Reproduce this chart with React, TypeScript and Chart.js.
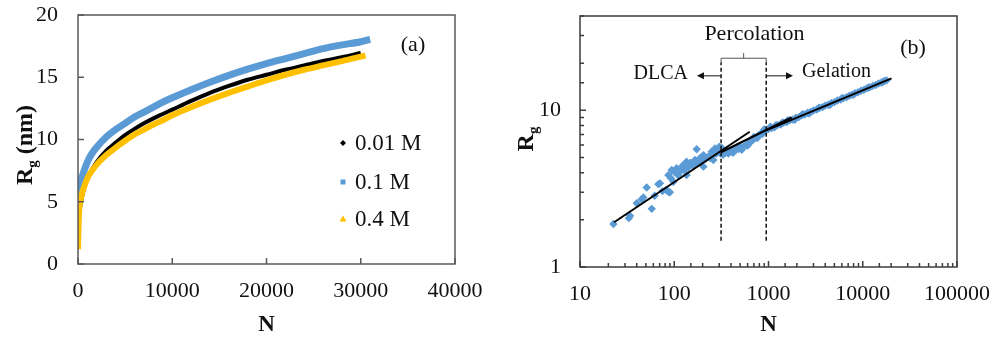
import React, { useEffect, useRef } from 'react';
import { Chart, registerables } from 'chart.js';
Chart.register(...registerables);

const SERIF = '"Liberation Serif", "Times New Roman", serif';
const TEXT = '#111111';

// ---------- Panel (a) data ----------
const seriesLabels = ['0.01 M', '0.1 M', '0.4 M'];
const seriesColors = ['#000000', '#5B9BD5', '#FFC000'];

const nBlack = [0, 50, 100, 200, 400, 700, 1000, 1500, 2000, 3000, 4000, 5000, 6000, 7000, 8000, 9000, 10000, 12000, 14000, 16000, 18000, 20000, 22000, 24000, 26000, 28000, 30000];
const rgBlack = [1.8, 3.0, 3.6, 4.4, 5.3, 6.2, 6.8, 7.6, 8.2, 9.1, 9.75, 10.35, 10.85, 11.3, 11.7, 12.05, 12.4, 13.1, 13.75, 14.3, 14.8, 15.2, 15.6, 15.95, 16.3, 16.6, 16.95];

const nBlue = [0, 50, 100, 200, 400, 700, 1000, 1500, 2000, 3000, 4000, 5000, 6000, 7000, 8000, 9000, 10000, 12000, 14000, 16000, 18000, 20000, 22000, 24000, 26000, 28000, 30000, 31000];
const rgBlue = [3.8, 5.0, 5.6, 6.2, 6.9, 7.6, 8.2, 8.9, 9.4, 10.2, 10.8, 11.3, 11.8, 12.2, 12.6, 13.0, 13.35, 14.0, 14.6, 15.15, 15.65, 16.1, 16.5, 16.9, 17.3, 17.6, 17.85, 18.05];

const nYellow = [0, 30, 60, 100, 200, 400, 700, 1000, 1500, 2000, 3000, 4000, 5000, 6000, 7000, 8000, 9000, 10000, 12000, 14000, 16000, 18000, 20000, 22000, 24000, 26000, 28000, 30000, 30500];
const rgYellow = [1.2, 2.2, 3.0, 4.0, 4.8, 5.6, 6.3, 6.9, 7.5, 8.0, 8.75, 9.35, 9.9, 10.4, 10.8, 11.2, 11.55, 11.95, 12.6, 13.2, 13.75, 14.25, 14.75, 15.2, 15.6, 15.95, 16.3, 16.65, 16.75];

// ---------- Panel (b) data ----------
const nScatter = [
  22.6, 34, 33, 40, 45, 51, 47, 57.7, 62, 67.7, 70.6, 75, 82, 86.5, 90, 86.5, 92, 94, 98, 100,
  106, 110, 115, 120, 125, 128, 135, 135, 140, 147, 153, 158, 166, 173, 175, 187, 195, 204, 204, 215,
  229, 240, 249, 255, 260, 270, 280, 293, 300, 310, 320, 330,
  350, 360, 375, 400, 420, 425, 450, 470, 480, 510, 520, 540, 575, 600, 610, 650, 690, 700, 735, 760, 780, 830, 860, 880, 900, 940,
  1000, 1050, 1080, 1160, 1200, 1250, 1350, 1400, 1450, 1560, 1600, 1680, 1800, 1900, 1950, 2100, 2250, 2300, 2420, 2600, 2700, 2800,
  3000, 3250, 3400, 3500, 3750, 4000, 4300, 4500, 4650, 5000, 5400, 5800, 6000, 6200, 6700, 7200, 7700, 8000, 8300, 8900,
  9600, 10300, 11000, 11500, 11900, 12800, 13700, 14700, 15800, 16300, 17000, 17900
];
const rgScatter = [
  1.88, 2.12, 2.05, 2.55, 2.70, 3.22, 2.78, 2.35, 2.85, 3.38, 3.42, 3.05, 3.10, 3.02, 3.00, 3.86, 3.70, 4.16, 3.50, 4.05,
  4.27, 3.85, 4.06, 4.35, 4.48, 4.15, 4.70, 3.86, 4.30, 4.62, 4.59, 4.45, 4.82, 5.64, 4.60, 4.94, 4.75, 5.18, 4.37, 4.90,
  5.06, 4.95, 5.44, 5.15, 4.82, 5.71, 5.30, 5.58, 5.85, 5.30, 5.75, 5.20,
  5.35, 5.55, 5.30, 5.45, 5.35, 5.50, 5.60, 5.85, 5.65, 5.80, 5.60, 5.85, 6.00, 5.95, 6.15, 6.30, 6.50, 6.75, 6.70, 6.65, 6.90, 7.10, 7.05, 7.30, 7.55, 7.45,
  7.60, 7.85, 7.72, 7.80, 8.05, 8.05, 8.12, 8.35, 8.35, 8.42, 8.65, 8.65, 8.72, 8.70, 8.98, 9.05, 9.30, 9.45, 9.40, 9.65, 9.55, 9.75,
  9.98, 10.12, 10.35, 10.38, 10.48, 10.72, 10.86, 10.85, 11.13, 11.28, 11.56, 11.70, 11.95, 11.95, 12.13, 12.40, 12.56, 12.60, 12.85, 13.03,
  13.33, 13.51, 13.80, 14.00, 14.01, 14.33, 14.51, 14.83, 15.04, 15.15, 15.38, 15.52
];

const dlcaFitN = [23, 632];
const dlcaFitRg = [1.93, 7.3];
const percFitN = [314, 1760];
const percFitRg = [5.4, 9.0];
const gelFitN = [946, 20200];
const gelFitRg = [7.45, 16.0];

// regime boundaries and annotation anchors (data units)
const dlcaLimitN = 314;
const gelLimitN = 946;
const guideRg = [1.47, 20.3];
const bracketRg = 21.5;
const bracketTipRg = 23.2;
const bracketMidN = 545;
const arrowRg = 16.6;
const dlcaArrowTipN = 174;
const gelArrowTipN = 1820;
const percLabelN = 710;
const percLabelRg = 30.7;

const xy = (xs: number[], ys: number[]) => xs.map((x, i) => ({ x, y: ys[i] }));

function drawRotTitle(ctx: CanvasRenderingContext2D, bx: number, cy: number, main: string, sub: string, rest: string, size: number) {
  ctx.save();
  ctx.translate(bx, cy);
  ctx.rotate(-Math.PI / 2);
  const big = `bold ${size}px ${SERIF}`;
  const small = `bold ${Math.round(size * 0.62)}px ${SERIF}`;
  ctx.font = big;
  const w1 = ctx.measureText(main).width;
  const w3 = rest ? ctx.measureText(rest).width : 0;
  ctx.font = small;
  const w2 = ctx.measureText(sub).width;
  const x0 = -(w1 + w2 + w3) / 2;
  ctx.fillStyle = TEXT;
  ctx.textBaseline = 'alphabetic';
  ctx.textAlign = 'left';
  ctx.font = big;
  ctx.fillText(main, x0, 0);
  ctx.font = small;
  ctx.fillText(sub, x0 + w1, size * 0.2);
  if (rest) {
    ctx.font = big;
    ctx.fillText(rest, x0 + w1 + w2, 0);
  }
  ctx.restore();
}

const panelAPlugin = {
  id: 'panelA',
  afterDraw(chart: any) {
    const { ctx, chartArea: ca, scales } = chart;
    const xs = scales.x, ys = scales.y;
    ctx.save();
    ctx.strokeStyle = '#595959';
    ctx.lineWidth = 1.5;
    ctx.strokeRect(ca.left, ca.top, ca.right - ca.left, ca.bottom - ca.top);
    ctx.beginPath();
    xs.ticks.forEach((t: any) => {
      const p = xs.getPixelForValue(t.value);
      ctx.moveTo(p, ca.bottom);
      ctx.lineTo(p, ca.bottom - 6);
    });
    ys.ticks.forEach((t: any) => {
      const p = ys.getPixelForValue(t.value);
      ctx.moveTo(ca.left, p);
      ctx.lineTo(ca.left + 6, p);
    });
    ctx.stroke();

    drawRotTitle(ctx, 32, 145, 'R', 'g', ' (nm)', 24);

    // legend
    const lx = ca.right - 112;
    const rows = [ca.top + 128, ca.top + 167, ca.top + 204];
    ctx.font = `23px ${SERIF}`;
    ctx.textBaseline = 'middle';
    ctx.textAlign = 'left';
    rows.forEach((ry, i) => {
      ctx.fillStyle = seriesColors[i];
      ctx.beginPath();
      if (i === 0) {
        ctx.moveTo(lx, ry - 3); ctx.lineTo(lx + 3, ry); ctx.lineTo(lx, ry + 3); ctx.lineTo(lx - 3, ry); ctx.closePath();
      } else if (i === 1) {
        ctx.rect(lx - 2.5, ry - 2.5, 5, 5);
      } else {
        ctx.moveTo(lx, ry - 3.5); ctx.lineTo(lx + 3.5, ry + 2.5); ctx.lineTo(lx - 3.5, ry + 2.5); ctx.closePath();
      }
      ctx.fill();
      ctx.fillStyle = TEXT;
      ctx.fillText(seriesLabels[i], lx + 12, ry + 1);
    });

    ctx.font = `22px ${SERIF}`;
    ctx.textAlign = 'center';
    ctx.fillText('(a)', ca.right - 42, ca.top + 30);
    ctx.restore();
  }
};

function arrow(ctx: CanvasRenderingContext2D, x1: number, y: number, x2: number) {
  const dir = Math.sign(x2 - x1);
  ctx.beginPath();
  ctx.moveTo(x1, y);
  ctx.lineTo(x2 - dir * 4, y);
  ctx.stroke();
  ctx.beginPath();
  ctx.moveTo(x2, y);
  ctx.lineTo(x2 - dir * 7, y - 3.5);
  ctx.lineTo(x2 - dir * 7, y + 3.5);
  ctx.closePath();
  ctx.fill();
}

const isPow10 = (v: number) => {
  const l = Math.log10(v);
  return Math.abs(l - Math.round(l)) < 1e-6;
};

const panelBPlugin = {
  id: 'panelB',
  afterDraw(chart: any) {
    const { ctx, chartArea: ca, scales } = chart;
    const xs = scales.x, ys = scales.y;
    ctx.save();
    ctx.strokeStyle = '#3d3d3d';
    ctx.lineWidth = 1.5;
    ctx.strokeRect(ca.left, ca.top, ca.right - ca.left, ca.bottom - ca.top);
    ctx.beginPath();
    xs.ticks.forEach((t: any) => {
      const p = xs.getPixelForValue(t.value);
      const len = isPow10(t.value) ? 6 : 4;
      ctx.moveTo(p, ca.bottom);
      ctx.lineTo(p, ca.bottom - len);
    });
    ys.ticks.forEach((t: any) => {
      const p = ys.getPixelForValue(t.value);
      const len = isPow10(t.value) ? 6 : 4;
      ctx.moveTo(ca.left, p);
      ctx.lineTo(ca.left + len, p);
    });
    ctx.stroke();

    drawRotTitle(ctx, 36, 139, 'R', 'g', '', 24);

    // bracket
    const xL = xs.getPixelForValue(dlcaLimitN);
    const xR = xs.getPixelForValue(gelLimitN);
    const xM = xs.getPixelForValue(bracketMidN);
    const yEnd = ys.getPixelForValue(guideRg[1]);
    const yB = ys.getPixelForValue(bracketRg);
    const yTip = ys.getPixelForValue(bracketTipRg);
    ctx.strokeStyle = '#555555';
    ctx.lineWidth = 1;
    ctx.beginPath();
    ctx.moveTo(xL, yEnd); ctx.lineTo(xL, yB); ctx.lineTo(xR, yB); ctx.lineTo(xR, yEnd);
    ctx.moveTo(xM, yB); ctx.lineTo(xM, yTip);
    ctx.stroke();

    // arrows
    const yA = ys.getPixelForValue(arrowRg);
    const xDt = xs.getPixelForValue(dlcaArrowTipN);
    const xGt = xs.getPixelForValue(gelArrowTipN);
    ctx.strokeStyle = '#111111';
    ctx.fillStyle = '#111111';
    ctx.lineWidth = 1;
    arrow(ctx, xL, yA, xDt);
    arrow(ctx, xR, yA, xGt);

    ctx.fillStyle = TEXT;
    ctx.textBaseline = 'middle';
    ctx.font = `20px ${SERIF}`;
    ctx.textAlign = 'right';
    ctx.fillText('DLCA', xDt - 9, yA - 2);
    ctx.textAlign = 'left';
    ctx.fillText('Gelation', xGt + 9, yA - 4);
    ctx.font = `22px ${SERIF}`;
    ctx.textAlign = 'center';
    ctx.fillText('Percolation', xs.getPixelForValue(percLabelN), ys.getPixelForValue(percLabelRg));
    ctx.fillText('(b)', ca.right - 44, ca.top + 32);
    ctx.restore();
  }
};

const tickFont = { family: SERIF, size: 22 };
const titleFont = { family: SERIF, size: 23, weight: 'bold' as const };

function configA(): any {
  const mk = (label: string, color: string, xs: number[], ys: number[], w: number) => ({
    label,
    data: xy(xs, ys),
    borderColor: color,
    backgroundColor: color,
    borderWidth: w,
    pointRadius: 0,
    cubicInterpolationMode: 'monotone',
    fill: false,
  });
  return {
    type: 'line',
    data: {
      datasets: [
        mk(seriesLabels[2], seriesColors[2], nYellow, rgYellow, 6),
        mk(seriesLabels[1], seriesColors[1], nBlue, rgBlue, 7),
        mk(seriesLabels[0], seriesColors[0], nBlack, rgBlack, 4),
      ],
    },
    options: {
      responsive: false,
      devicePixelRatio: 1,
      animation: false,
      layout: { padding: { left: 0, top: 15, right: 42, bottom: 0 } },
      plugins: { legend: { display: false }, tooltip: { enabled: false } },
      scales: {
        x: {
          type: 'linear', min: 0, max: 40000,
          grid: { display: false, drawTicks: true, tickLength: 14 },
          border: { display: false },
          ticks: { stepSize: 10000, font: tickFont, color: TEXT, padding: 0, maxRotation: 0, callback: (v: number) => String(v) },
          title: { display: true, text: 'N', font: titleFont, color: TEXT, padding: { top: 0, bottom: 1 } },
          afterFit: (s: any) => { s.height = 76; },
        },
        y: {
          type: 'linear', min: 0, max: 20,
          grid: { display: false, drawTicks: true, tickLength: 20 },
          border: { display: false },
          ticks: { stepSize: 5, font: tickFont, color: TEXT, padding: 0 },
          afterFit: (s: any) => { s.width = 78; },
        },
      },
    },
    plugins: [panelAPlugin],
  };
}

function configB(): any {
  const fit = (xs: number[], ys: number[]) => ({
    data: xy(xs, ys),
    borderColor: '#000000',
    borderWidth: 2,
    pointRadius: 0,
    fill: false,
  });
  const guide = (n: number) => ({
    data: xy([n, n], guideRg),
    borderColor: '#111111',
    borderWidth: 1.5,
    borderDash: [4, 2.5],
    pointRadius: 0,
    fill: false,
  });
  return {
    type: 'line',
    data: {
      datasets: [
        fit(dlcaFitN, dlcaFitRg),
        fit(percFitN, percFitRg),
        fit(gelFitN, gelFitRg),
        guide(dlcaLimitN),
        guide(gelLimitN),
        {
          data: xy(nScatter, rgScatter),
          showLine: false,
          pointStyle: 'rectRot',
          pointRadius: 4.2,
          pointBorderWidth: 0,
          borderWidth: 0,
          backgroundColor: '#5B9BD5',
          borderColor: '#5B9BD5',
        },
      ],
    },
    options: {
      responsive: false,
      devicePixelRatio: 1,
      animation: false,
      layout: { padding: { left: 0, top: 16, right: 37, bottom: 0 } },
      plugins: { legend: { display: false }, tooltip: { enabled: false } },
      scales: {
        x: {
          type: 'logarithmic', min: 10, max: 100000,
          grid: { display: false, drawTicks: true, tickLength: 14 },
          border: { display: false },
          ticks: {
            font: tickFont, color: TEXT, padding: 0, maxRotation: 0, minRotation: 0, autoSkip: false,
            callback: (v: number) => (isPow10(v) ? String(Math.round(v)) : ''),
          },
          title: { display: true, text: 'N', font: titleFont, color: TEXT, padding: { top: 0, bottom: 1 } },
          afterFit: (s: any) => { s.height = 73; },
        },
        y: {
          type: 'logarithmic', min: 1, max: 40,
          grid: { display: false, drawTicks: true, tickLength: 19 },
          border: { display: false },
          ticks: {
            font: tickFont, color: TEXT, padding: 0, autoSkip: false,
            callback: (v: number) => (isPow10(v) ? String(Math.round(v)) : ''),
          },
          afterFit: (s: any) => { s.width = 83; },
        },
      },
    },
    plugins: [panelBPlugin],
  };
}

export default function App() {
  const aRef = useRef<HTMLCanvasElement>(null);
  const bRef = useRef<HTMLCanvasElement>(null);
  useEffect(() => {
    const ca = new Chart(aRef.current as HTMLCanvasElement, configA());
    const cb = new Chart(bRef.current as HTMLCanvasElement, configB());
    return () => {
      ca.destroy();
      cb.destroy();
    };
  }, []);
  return (
    <div style={{ position: 'fixed', left: 0, top: 0, width: 994, height: 340, background: '#ffffff' }}>
      <canvas ref={aRef} width={497} height={340} style={{ position: 'absolute', left: 0, top: 0, width: 497, height: 340 }} />
      <canvas ref={bRef} width={497} height={340} style={{ position: 'absolute', left: 497, top: 0, width: 497, height: 340 }} />
    </div>
  );
}
